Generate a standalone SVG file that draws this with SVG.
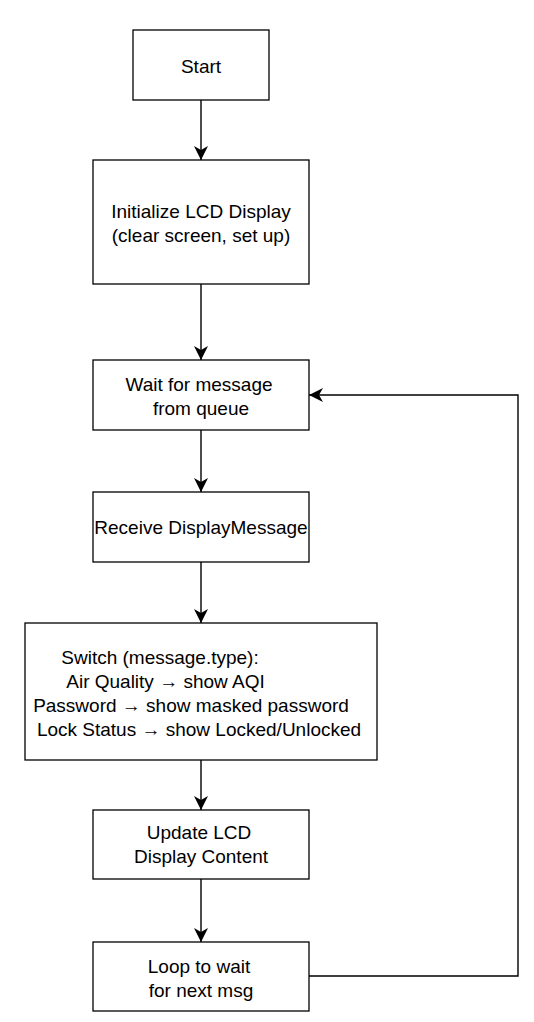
<svg xmlns="http://www.w3.org/2000/svg" width="534" height="1022" viewBox="0 0 534 1022">
<defs>
<style>
.box{fill:#ffffff;stroke:#000000;stroke-width:1.3}
.t{font-family:"Liberation Sans",Arial,sans-serif;font-size:19px;fill:#000000;text-anchor:middle}
.c{fill:none;stroke:#000000;stroke-width:1.4}
</style>
<marker id="arr" markerUnits="userSpaceOnUse" markerWidth="18" markerHeight="16" viewBox="-15 -8 16 16" refX="0" refY="0" orient="auto">
<path d="M0,0 L-14,-7 L-10,0 L-14,7 Z" fill="#000000"/>
</marker>
</defs>
<rect width="534" height="1022" fill="#ffffff"/>
<g id="connectors">
<path class="c" d="M201,100 L201,160" marker-end="url(#arr)"/>
<path class="c" d="M201,284 L201,360" marker-end="url(#arr)"/>
<path class="c" d="M201,430 L201,492" marker-end="url(#arr)"/>
<path class="c" d="M201,562 L201,623" marker-end="url(#arr)"/>
<path class="c" d="M201,760 L201,810" marker-end="url(#arr)"/>
<path class="c" d="M201,879 L201,942" marker-end="url(#arr)"/>
<path class="c" d="M309,976 L518,976 L518,395 L309,395" marker-end="url(#arr)"/>
</g>
<g id="start">
<rect class="box" x="133" y="30" width="136" height="70"/>
<text class="t" x="201" y="73">Start</text>
</g>
<g id="init">
<rect class="box" x="93" y="160" width="216" height="124"/>
<text class="t" x="201" y="218">Initialize LCD Display</text>
<text class="t" x="201" y="242">(clear screen, set up)</text>
</g>
<g id="wait">
<rect class="box" x="93" y="360" width="216" height="70"/>
<text class="t" x="199" y="391">Wait for message</text>
<text class="t" x="201" y="415">from queue</text>
</g>
<g id="receive">
<rect class="box" x="93" y="492" width="216" height="70"/>
<text class="t" x="201" y="534">Receive DisplayMessage</text>
</g>
<g id="switch">
<rect class="box" x="25" y="623" width="352" height="137"/>
<text class="t" x="160" y="664">Switch (message.type):</text>
<text class="t" x="165.5" y="688">Air Quality → show AQI</text>
<text class="t" x="191" y="712">Password → show masked password</text>
<text class="t" x="199" y="736">Lock Status → show Locked/Unlocked</text>
</g>
<g id="update">
<rect class="box" x="93" y="810" width="216" height="69"/>
<text class="t" x="199" y="839">Update LCD</text>
<text class="t" x="201" y="863">Display Content</text>
</g>
<g id="loop">
<rect class="box" x="93" y="942" width="216" height="69"/>
<text class="t" x="199" y="973">Loop to wait</text>
<text class="t" x="201" y="997">for next msg</text>
</g>
</svg>
